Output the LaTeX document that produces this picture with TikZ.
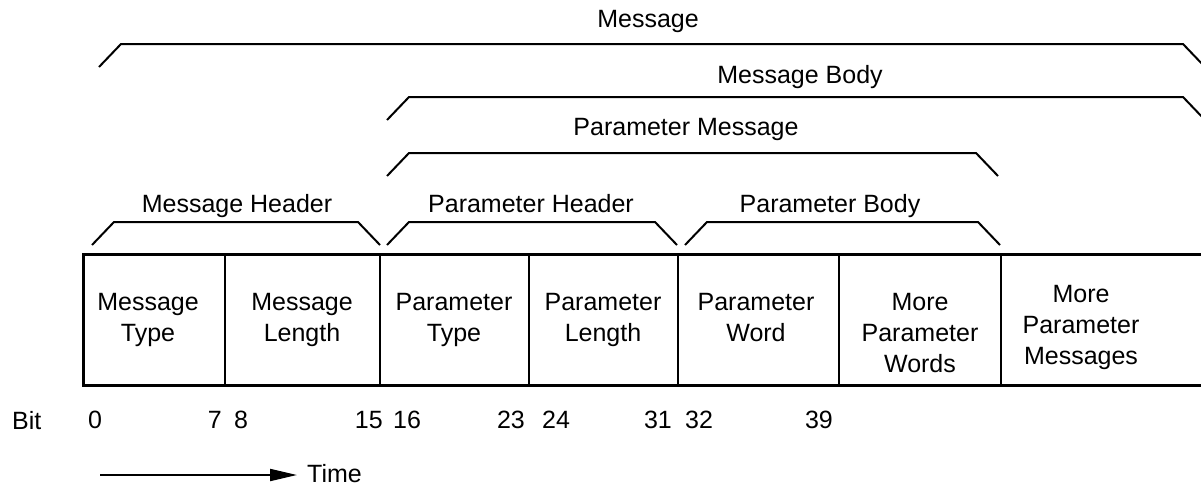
\documentclass[tikz,border=0pt]{standalone}
\usepackage{fontspec}
\setmainfont{Liberation Sans}
\usetikzlibrary{arrows.meta}

\begin{document}
\begin{tikzpicture}[x=1pt,y=-1pt,
      lbl/.style={font=\fontsize{25}{31}\selectfont, inner sep=0pt},
      title/.style={lbl, anchor=base},
      cell/.style={lbl, align=center},
      brace/.style={line width=2pt},
      frame/.style={line width=3pt},
      divider/.style={line width=2pt}]
      \useasboundingbox (0,0) rectangle (1201,485);
      % frame, open to the right
      \draw[frame] (1210,254) -- (83,254) -- (83,385) -- (1210,385);
      \foreach \x in {225,380,529,678,839,1001}
        \draw[divider] (\x,254) -- (\x,385);
      % fields
      \node[cell] (msgtype) at (148,320) {Message\\Type};
      \node[cell] (msglen) at (302,320) {Message\\Length};
      \node[cell] (partype) at (454,320) {Parameter\\Type};
      \node[cell] (parlen) at (603,320) {Parameter\\Length};
      \node[cell] (parword) at (756,318) {Parameter\\Word};
      \node[cell] (morewords) at (920,333) {More\\Parameter\\Words};
      \node[cell] (moremsgs) at (1081,327) {More\\Parameter\\Messages};
      % spans
      \foreach \a/\b/\y in {99/1205/67, 387/1205/120, 387/998/176,
                            92/380/245, 387/677/245, 685/1000/245}
        \draw[brace] (\a,\y) -- ++(22,-23) -- ({\b-22},{\y-23}) -- (\b,\y);
      \node[title] (message) at (648,27) {Message};
      \node[title] (msgbody) at (800,83) {Message Body};
      \node[title] (parmsg) at (686,135) {Parameter Message};
      \node[title] (msghead) at (237,212) {Message Header};
      \node[title] (parhead) at (531,212) {Parameter Header};
      \node[title] (parbody) at (830,212) {Parameter Body};
      % bit numbers
      \node[lbl, anchor=base west] (bit) at (12,429) {Bit};
      \foreach \t/\x/\a in {0/88/west, 7/222/east, 8/234/west, 15/383/east,
                            16/393/west, 23/525/east, 24/542/west, 31/672/east,
                            32/685/west, 39/833/east}
        \node[lbl, anchor=base \a] (bit\t) at (\x,428) {\t};
      % time axis
      \coordinate (t0) at (100,475);
      \node[lbl, anchor=base west] (time) at (307,482) {Time};
      \draw[line width=2pt, -{Triangle[length=27pt,width=12pt]}, shorten >=10pt] (t0) -- (t0 -| time.west);
\end{tikzpicture}
\end{document}
